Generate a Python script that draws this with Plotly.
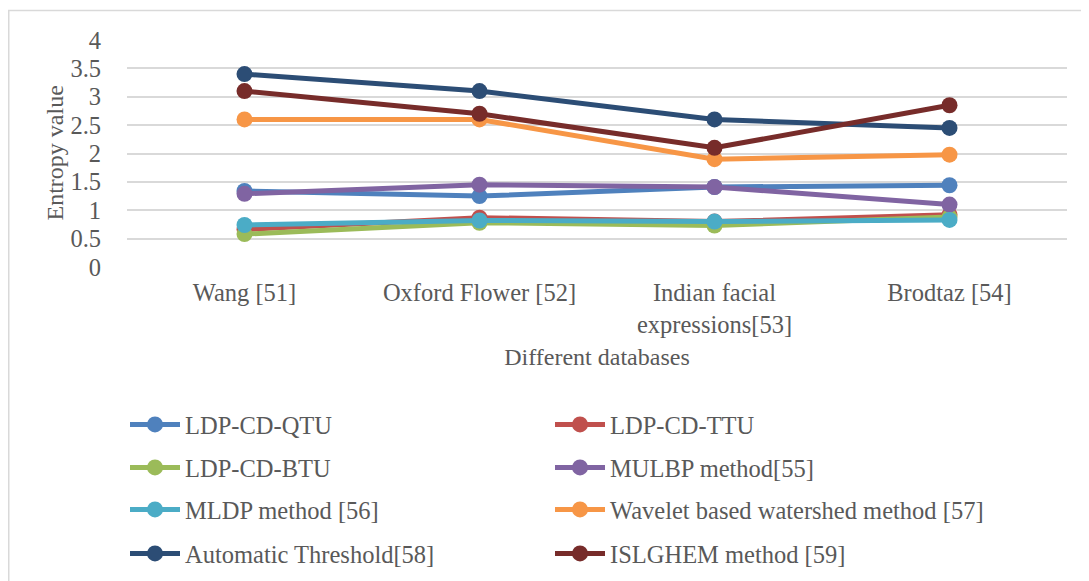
import plotly.graph_objects as go

categories = ["Wang [51]", "Oxford Flower [52]", "Indian facial<br>expressions[53]", "Brodtaz [54]"]

series_names = [
    "LDP-CD-QTU", "LDP-CD-TTU", "LDP-CD-BTU", "MULBP method[55]",
    "MLDP method [56]", "Wavelet based watershed method [57]",
    "Automatic Threshold[58]", "ISLGHEM method [59]",
]
qtu = [1.34, 1.25, 1.41, 1.44]
ttu = [0.66, 0.87, 0.80, 0.92]
btu = [0.58, 0.78, 0.73, 0.88]
mulbp = [1.29, 1.45, 1.41, 1.10]
mldp = [0.74, 0.82, 0.80, 0.83]
wavelet = [2.60, 2.60, 1.90, 1.98]
auto_thr = [3.40, 3.10, 2.60, 2.45]
islghem = [3.10, 2.70, 2.10, 2.85]

series_values = [qtu, ttu, btu, mulbp, mldp, wavelet, auto_thr, islghem]
colors = ["#4f81bd", "#c0504d", "#9bbb59", "#8064a2", "#4bacc6", "#f79646", "#2c4d75", "#772c2a"]

OFF = 8  # page body margin
W, H = 1081, 573
L, R, T, B = 119, 22, 32, 314
pw = W - L - R
ph = H - T - B

def px_x(page_x):
    return (page_x - OFF - L) / pw

def px_y(page_y):
    return (H - B - (page_y - OFF)) / ph

FS = 24.5
font = dict(family="Liberation Serif", size=FS, color="#595959")
title_font = dict(family="Liberation Serif", size=24, color="#595959")

legend_ids = ["legend"] + ["legend%d" % (k + 2) for k in range(len(series_names) - 1)]

fig = go.Figure()
for i in range(len(series_names)):
    fig.add_trace(go.Scatter(
        x=categories, y=series_values[i], name=series_names[i],
        mode="lines+markers",
        line=dict(color=colors[i], width=5),
        marker=dict(color=colors[i], size=16),
        legend=legend_ids[i], showlegend=True,
    ))

row_y = [426.5, 469.5, 511.5, 555.5]
col_x = [125, 550]

legend_layout = {}
for i, lid in enumerate(legend_ids):
    r, c = divmod(i, 2)
    legend_layout[lid] = dict(
        x=px_x(col_x[c]), y=px_y(row_y[r] - 2), xanchor="left", yanchor="middle",
        font=font, itemwidth=50, bgcolor="rgba(0,0,0,0)",
    )

fig.update_layout(
    width=W, height=H,
    margin=dict(l=L, r=R, t=T, b=B, autoexpand=False),
    paper_bgcolor="white", plot_bgcolor="white",
    font=font,
    showlegend=True,
    xaxis=dict(
        range=[-0.5, 3.5],
        showgrid=False, zeroline=False, showline=False,
        ticks="outside", ticklen=4, tickcolor="rgba(0,0,0,0)",
        tickfont=font,
        title=dict(text="Different databases", font=title_font, standoff=10),
    ),
    yaxis=dict(
        range=[0, 4], dtick=0.5, showgrid=True, gridcolor="#d9d9d9", gridwidth=1.5,
        zeroline=False, showline=False,
        ticks="outside", ticklen=20, tickcolor="rgba(0,0,0,0)",
        tickfont=font, tickformat="~g",
    ),
    annotations=[dict(
        text="Entropy value", textangle=-90, showarrow=False,
        xref="paper", yref="paper", x=px_x(54), y=0.5,
        xanchor="center", yanchor="middle", font=title_font,
    )],
    shapes=[dict(
        type="rect", xref="paper", yref="paper",
        x0=px_x(8.75), x1=px_x(1100), y0=px_y(10.5), y1=px_y(600),
        line=dict(color="#d9d9d9", width=1.5), fillcolor="rgba(0,0,0,0)", layer="below",
    )],
    **legend_layout,
)

fig.write_html("out.html")
